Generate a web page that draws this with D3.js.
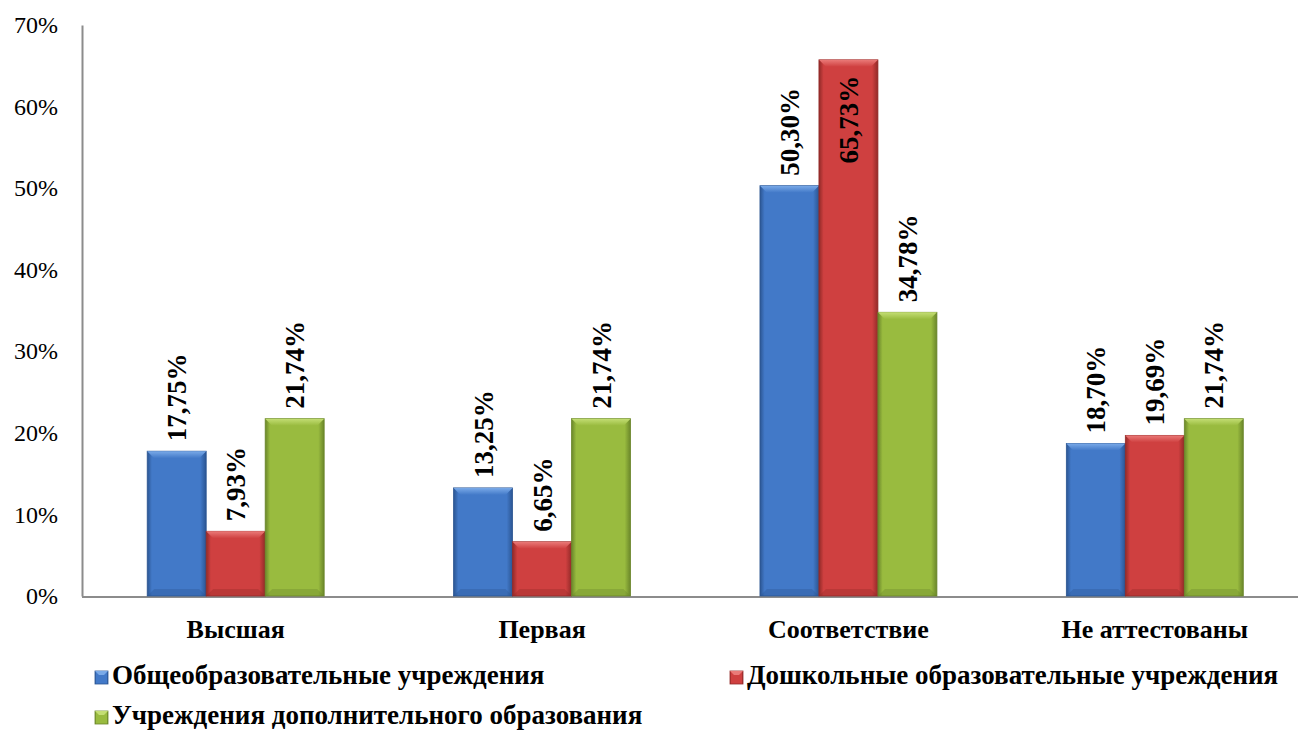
<!DOCTYPE html>
<html><head><meta charset="utf-8">
<script src="https://cdn.jsdelivr.net/npm/d3@7"></script>
<style>body{margin:0;background:#fff}svg{display:block}</style>
</head><body><svg id="c" width="1298" height="739"></svg>
<script>
const categories = ["Высшая", "Первая", "Соответствие", "Не аттестованы"];
const seriesNames = ["Общеобразовательные учреждения", "Дошкольные образовательные учреждения", "Учреждения дополнительного образования"];
const generalValues = [17.75, 13.25, 50.30, 18.70];
const preschoolValues = [7.93, 6.65, 65.73, 19.69];
const additionalValues = [21.74, 21.74, 34.78, 21.74];
const yTicks = [0, 10, 20, 30, 40, 50, 60, 70];

const FONT = "Liberation Serif";
const seriesValues = [generalValues, preschoolValues, additionalValues];
const colors = [
  {base:"#4279c8", light:"#7aaae8", dark:"#2b5592"},
  {base:"#cf4040", light:"#ea7a78", dark:"#922a28"},
  {base:"#99bb3f", light:"#c4de74", dark:"#6a862a"}
];

const svg = d3.select("#c");
const defs = svg.append("defs");
colors.forEach((c,i)=>{
  const g = defs.append("linearGradient").attr("id","g"+i).attr("x1","0").attr("x2","1").attr("y1","0").attr("y2","0");
  g.append("stop").attr("offset","0").attr("stop-color",c.dark);
  g.append("stop").attr("offset","0.08").attr("stop-color",c.base);
  g.append("stop").attr("offset","0.9").attr("stop-color",c.base);
  g.append("stop").attr("offset","1").attr("stop-color",c.dark);
  const t = defs.append("linearGradient").attr("id","t"+i).attr("x1","0").attr("x2","0").attr("y1","0").attr("y2","1");
  t.append("stop").attr("offset","0").attr("stop-color",c.light);
  t.append("stop").attr("offset","1").attr("stop-color",c.base);
});

const y = d3.scaleLinear().domain([0,70]).range([596,25]);
const x0 = d3.scaleBand().domain(categories).range([82.5,1308]).padding(0);
const x1 = d3.scaleBand().domain([0,1,2]).range([0,x0.bandwidth()]).paddingInner(0).paddingOuter(1.097);

// y axis
const yAxis = d3.axisLeft(y).tickValues(yTicks).tickSize(0).tickPadding(24).tickFormat(d=>d+"%");
const ga = svg.append("g").attr("transform","translate(82,0)").call(yAxis);
ga.attr("font-family",FONT).attr("font-size",24);
ga.select(".domain").attr("stroke","#8c8c8c").attr("stroke-width",2);
ga.selectAll("text").attr("fill","#000");

// x axis
svg.append("line").attr("x1",82).attr("x2",1298).attr("y1",y(0)+1).attr("y2",y(0)+1).attr("stroke","#8c8c8c").attr("stroke-width",2);

// bars
const groups = svg.append("g").selectAll("g").data(categories).join("g")
  .attr("transform",d=>`translate(${x0(d)},0)`);
const bv = 7;
groups.each(function(cat,ci){
  const g = d3.select(this);
  seriesValues.forEach((vals,si)=>{
    const v = vals[ci];
    const bx = x1(si), bw = x1.bandwidth(), top = y(v), bot = y(0);
    const c = colors[si];
    g.append("rect").attr("x",bx).attr("y",top).attr("width",bw).attr("height",bot-top)
      .attr("fill",`url(#g${si})`).attr("stroke",c.dark).attr("stroke-width",0.8);
    g.append("path").attr("d",`M${bx},${top}L${bx+bw},${top}L${bx+bw-bv},${top+bv}L${bx+bv},${top+bv}Z`)
      .attr("fill",`url(#t${si})`);
    g.append("path").attr("d",`M${bx},${bot}L${bx+bw},${bot}L${bx+bw-bv},${bot-bv}L${bx+bv},${bot-bv}Z`)
      .attr("fill",c.dark).attr("opacity",0.35);
    const lbl = g.append("text").attr("font-family",FONT).attr("font-size",27).attr("font-weight","bold").attr("fill","#000")
      .attr("dy","0.35em")
      .text(d3.format(".2f")(v).replace(".",",")+"%");
    const len = lbl.node().getComputedTextLength();
    const cx = bx + bw/2;
    let ly;
    if (top - 10 - len < 5) { ly = top + 16 + len; } else { ly = top - 10; }
    lbl.attr("transform",`translate(${cx},${ly}) rotate(-90)`).attr("text-anchor","start");
  });
});

// category labels
svg.append("g").selectAll("text").data(categories).join("text")
  .attr("x",d=>x0(d)+x0.bandwidth()/2).attr("y",638).attr("text-anchor","middle")
  .attr("font-family",FONT).attr("font-size",26).attr("font-weight","bold").text(d=>d);

// legend
const legendPos = [[95,684],[730,684],[95,724]];
const lg = svg.append("g").selectAll("g").data(seriesNames).join("g")
  .attr("transform",(d,i)=>`translate(${legendPos[i][0]},${legendPos[i][1]})`);
lg.append("rect").attr("x",0).attr("y",-13).attr("width",13).attr("height",13)
  .attr("fill",(d,i)=>`url(#g${i})`).attr("stroke",(d,i)=>colors[i].dark).attr("stroke-width",0.8);
lg.append("path").attr("d","M0,-13L13,-13L9,-9L4,-9Z").attr("fill",(d,i)=>colors[i].light);
lg.append("text").attr("x",17).attr("y",0).attr("font-family",FONT).attr("font-size",27).attr("font-weight","bold").text(d=>d);
</script></body></html>
